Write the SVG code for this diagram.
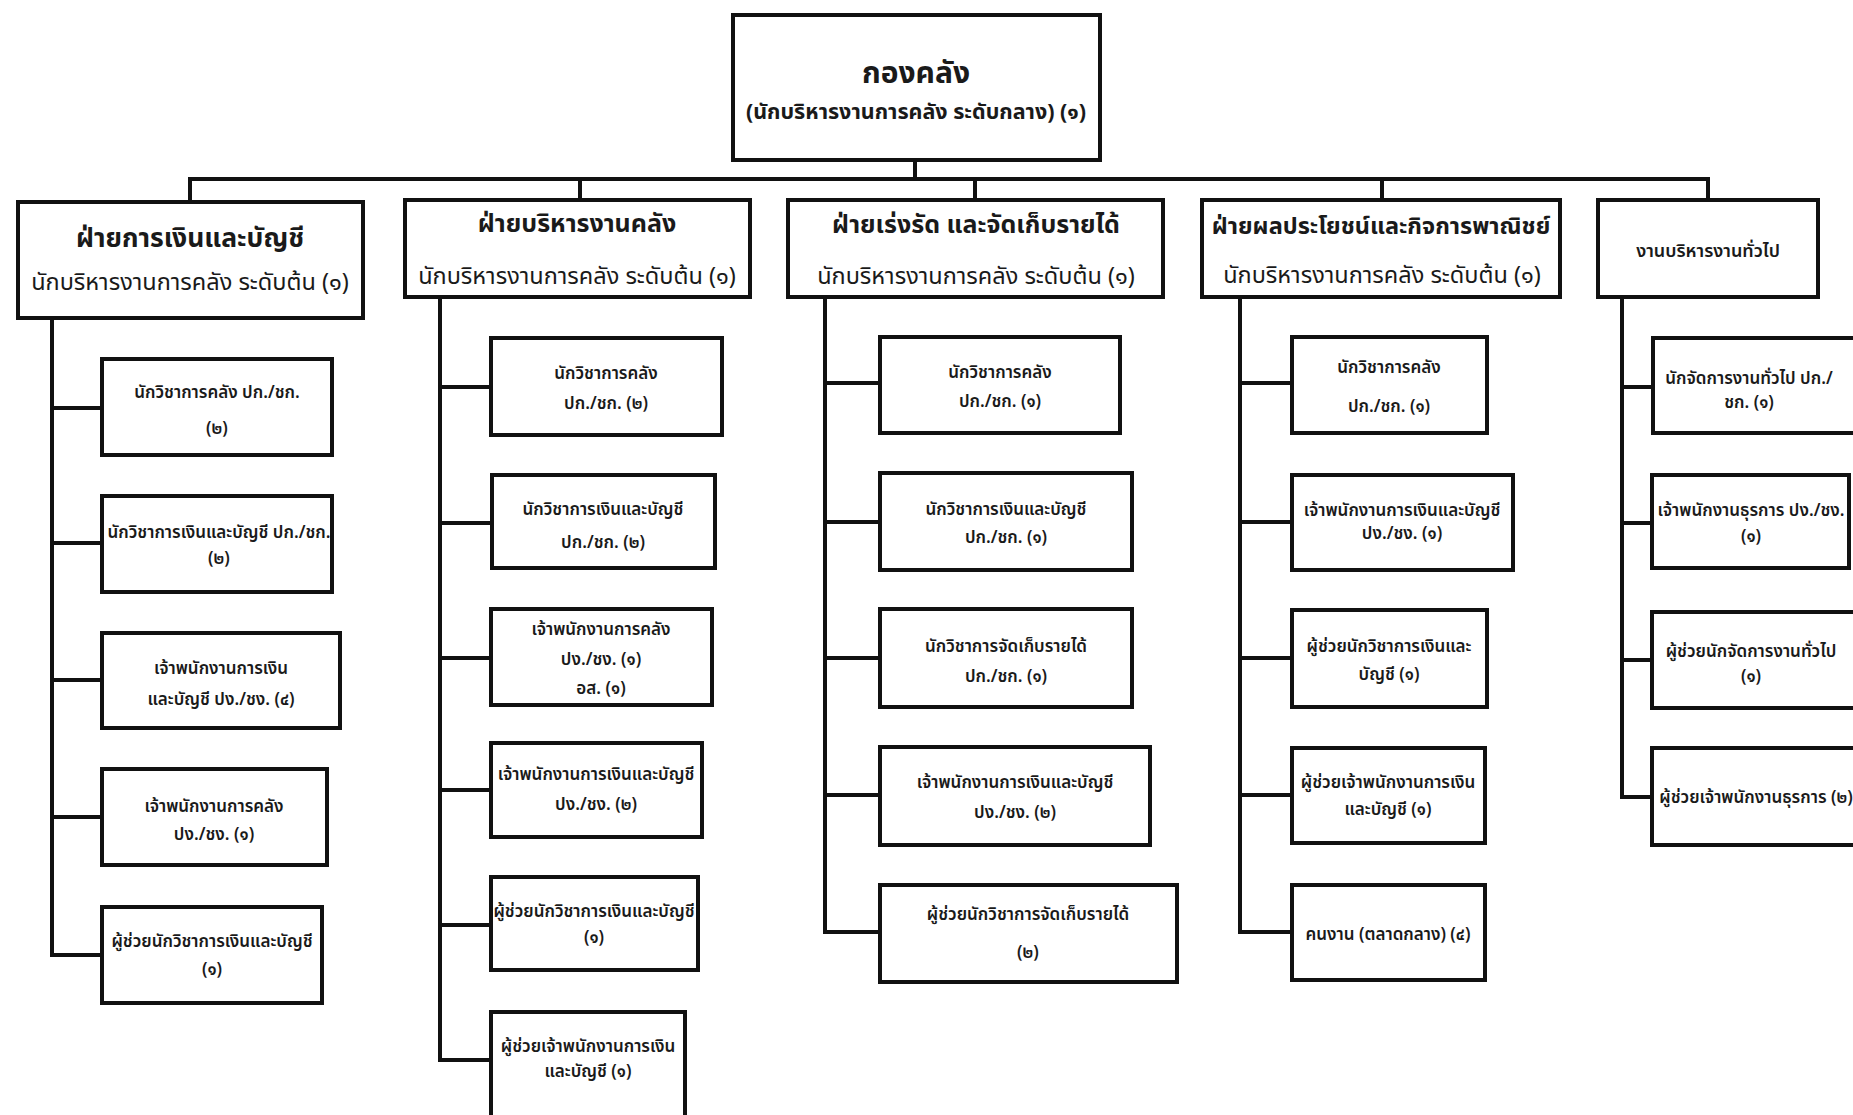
<svg xmlns="http://www.w3.org/2000/svg" width="1853" height="1115" viewBox="0 0 1853 1115">
  <style>
    .box { fill: #ffffff; stroke: #111111; stroke-width: 4; }
    .ln { stroke: #111111; stroke-width: 4; fill: none; stroke-linecap: square; }
    text { font-family: 'Noto Sans Thai', 'Noto Sans Thai UI', 'Noto Looped Thai', Loma, Garuda, Norasi, 'DejaVu Sans', sans-serif; fill: #1a1a1a; text-anchor: middle; }
    .h1 { font-size: 30px; font-weight: bold; }
    .h2 { font-size: 21.5px; font-weight: bold; }
    .dh { font-size: 25px; font-weight: bold; }
    .ds { font-size: 23.5px; }
    .c { font-size: 17px; font-weight: 600; }
    .g { font-size: 18px; font-weight: 600; }
  </style>
  <rect width="1853" height="1115" fill="#ffffff"/>

  <!-- connectors -->
  <g id="connectors">
    <path class="ln" d="M915 160 V179 M190 179 H1708 M190 179 V202 M580 179 V200 M975 179 V200 M1382 179 V200 M1708 179 V200"/>
    <path class="ln" d="M52 318 V955 M52 408 H102 M52 543 H102 M52 680 H102 M52 817 H102 M52 955 H102"/>
    <path class="ln" d="M440 297 V1060 M440 387 H491 M440 523 H491 M440 658 H491 M440 790 H491 M440 925 H491 M440 1060 H491"/>
    <path class="ln" d="M825 297 V932 M825 383 H880 M825 522 H880 M825 658 H880 M825 795 H880 M825 932 H880"/>
    <path class="ln" d="M1240 297 V932 M1240 383 H1292 M1240 522 H1292 M1240 658 H1292 M1240 795 H1292 M1240 932 H1292"/>
    <path class="ln" d="M1622 297 V797 M1622 387 H1652 M1622 523 H1652 M1622 660 H1652 M1622 797 H1652"/>
  </g>

  <!-- head office -->
  <g id="treasury">
    <rect class="box" x="733" y="15" width="367" height="145"/>
    <text class="h1" x="916" y="83">กองคลัง</text>
    <text class="h2" x="916" y="119">(นักบริหารงานการคลัง ระดับกลาง) (๑)</text>
  </g>

  <!-- division 1 -->
  <g id="div-finance">
    <rect class="box" x="18" y="202" width="345" height="116"/>
    <text class="dh" x="190" y="247" style="font-size:26.5px">ฝ่ายการเงินและบัญชี</text>
    <text class="ds" x="190" y="290">นักบริหารงานการคลัง ระดับต้น (๑)</text>
  </g>
  <g id="div-finance-1">
    <rect class="box" x="102" y="359" width="230" height="96"/>
    <text class="c" x="217" y="398">นักวิชาการคลัง ปก./ชก.</text>
    <text class="c" x="217" y="434">(๒)</text>
  </g>
  <g id="div-finance-2">
    <rect class="box" x="102" y="496" width="230" height="96"/>
    <text class="c" x="219" y="538">นักวิชาการเงินและบัญชี ปก./ชก.</text>
    <text class="c" x="219" y="564">(๒)</text>
  </g>
  <g id="div-finance-3">
    <rect class="box" x="102" y="633" width="238" height="95"/>
    <text class="c" x="221" y="674">เจ้าพนักงานการเงิน</text>
    <text class="c" x="221" y="705">และบัญชี ปง./ชง. (๔)</text>
  </g>
  <g id="div-finance-4">
    <rect class="box" x="102" y="769" width="225" height="96"/>
    <text class="c" x="214" y="812">เจ้าพนักงานการคลัง</text>
    <text class="c" x="214" y="840">ปง./ชง. (๑)</text>
  </g>
  <g id="div-finance-5">
    <rect class="box" x="102" y="907" width="220" height="96"/>
    <text class="c" x="212" y="947">ผู้ช่วยนักวิชาการเงินและบัญชี</text>
    <text class="c" x="212" y="975">(๑)</text>
  </g>

  <!-- division 2 -->
  <g id="div-admin">
    <rect class="box" x="405" y="200" width="345" height="97"/>
    <text class="dh" x="577" y="232">ฝ่ายบริหารงานคลัง</text>
    <text class="ds" x="577" y="284">นักบริหารงานการคลัง ระดับต้น (๑)</text>
  </g>
  <g id="div-admin-1">
    <rect class="box" x="491" y="338" width="231" height="97"/>
    <text class="c" x="606" y="379">นักวิชาการคลัง</text>
    <text class="c" x="606" y="409">ปก./ชก. (๒)</text>
  </g>
  <g id="div-admin-2">
    <rect class="box" x="492" y="475" width="223" height="93"/>
    <text class="c" x="603" y="515">นักวิชาการเงินและบัญชี</text>
    <text class="c" x="603" y="548">ปก./ชก. (๒)</text>
  </g>
  <g id="div-admin-3">
    <rect class="box" x="491" y="609" width="221" height="96"/>
    <text class="c" x="601" y="635">เจ้าพนักงานการคลัง</text>
    <text class="c" x="601" y="665">ปง./ชง. (๑)</text>
    <text class="c" x="601" y="694">อส. (๑)</text>
  </g>
  <g id="div-admin-4">
    <rect class="box" x="491" y="743" width="211" height="94"/>
    <text class="c" x="596" y="780">เจ้าพนักงานการเงินและบัญชี</text>
    <text class="c" x="596" y="810">ปง./ชง. (๒)</text>
  </g>
  <g id="div-admin-5">
    <rect class="box" x="491" y="877" width="207" height="93"/>
    <text class="c" x="594" y="917">ผู้ช่วยนักวิชาการเงินและบัญชี</text>
    <text class="c" x="594" y="943">(๑)</text>
  </g>
  <g id="div-admin-6">
    <rect class="box" x="491" y="1012" width="194" height="113"/>
    <text class="c" x="588" y="1052">ผู้ช่วยเจ้าพนักงานการเงิน</text>
    <text class="c" x="588" y="1077">และบัญชี (๑)</text>
  </g>

  <!-- division 3 -->
  <g id="div-revenue">
    <rect class="box" x="788" y="200" width="375" height="97"/>
    <text class="dh" x="976" y="233">ฝ่ายเร่งรัด และจัดเก็บรายได้</text>
    <text class="ds" x="976" y="284">นักบริหารงานการคลัง ระดับต้น (๑)</text>
  </g>
  <g id="div-revenue-1">
    <rect class="box" x="880" y="337" width="240" height="96"/>
    <text class="c" x="1000" y="378">นักวิชาการคลัง</text>
    <text class="c" x="1000" y="407">ปก./ชก. (๑)</text>
  </g>
  <g id="div-revenue-2">
    <rect class="box" x="880" y="473" width="252" height="97"/>
    <text class="c" x="1006" y="515">นักวิชาการเงินและบัญชี</text>
    <text class="c" x="1006" y="543">ปก./ชก. (๑)</text>
  </g>
  <g id="div-revenue-3">
    <rect class="box" x="880" y="609" width="252" height="98"/>
    <text class="c" x="1006" y="652">นักวิชาการจัดเก็บรายได้</text>
    <text class="c" x="1006" y="682">ปก./ชก. (๑)</text>
  </g>
  <g id="div-revenue-4">
    <rect class="box" x="880" y="747" width="270" height="98"/>
    <text class="c" x="1015" y="788">เจ้าพนักงานการเงินและบัญชี</text>
    <text class="c" x="1015" y="818">ปง./ชง. (๒)</text>
  </g>
  <g id="div-revenue-5">
    <rect class="box" x="880" y="885" width="297" height="97"/>
    <text class="c" x="1028" y="920">ผู้ช่วยนักวิชาการจัดเก็บรายได้</text>
    <text class="c" x="1028" y="958">(๒)</text>
  </g>

  <!-- division 4 -->
  <g id="div-commerce">
    <rect class="box" x="1202" y="200" width="358" height="97"/>
    <text class="dh" x="1381" y="234" style="font-size:23.5px">ฝ่ายผลประโยชน์และกิจการพาณิชย์</text>
    <text class="ds" x="1382" y="283">นักบริหารงานการคลัง ระดับต้น (๑)</text>
  </g>
  <g id="div-commerce-1">
    <rect class="box" x="1292" y="337" width="195" height="96"/>
    <text class="c" x="1389" y="373">นักวิชาการคลัง</text>
    <text class="c" x="1389" y="412">ปก./ชก. (๑)</text>
  </g>
  <g id="div-commerce-2">
    <rect class="box" x="1292" y="475" width="221" height="95"/>
    <text class="c" x="1402" y="516">เจ้าพนักงานการเงินและบัญชี</text>
    <text class="c" x="1402" y="539">ปง./ชง. (๑)</text>
  </g>
  <g id="div-commerce-3">
    <rect class="box" x="1292" y="610" width="195" height="97"/>
    <text class="c" x="1389" y="652">ผู้ช่วยนักวิชาการเงินและ</text>
    <text class="c" x="1389" y="680">บัญชี (๑)</text>
  </g>
  <g id="div-commerce-4">
    <rect class="box" x="1292" y="748" width="193" height="95"/>
    <text class="c" x="1388" y="788">ผู้ช่วยเจ้าพนักงานการเงิน</text>
    <text class="c" x="1388" y="815">และบัญชี (๑)</text>
  </g>
  <g id="div-commerce-5">
    <rect class="box" x="1292" y="885" width="193" height="95"/>
    <text class="c" x="1388" y="940">คนงาน (ตลาดกลาง) (๔)</text>
  </g>

  <!-- general affairs -->
  <g id="general">
    <rect class="box" x="1598" y="200" width="220" height="97"/>
    <text class="g" x="1708" y="257">งานบริหารงานทั่วไป</text>
  </g>
  <g id="general-1">
    <rect class="box" x="1653" y="338" width="210" height="95"/>
    <text class="c" x="1749" y="384">นักจัดการงานทั่วไป ปก./</text>
    <text class="c" x="1749" y="408">ชก. (๑)</text>
  </g>
  <g id="general-2">
    <rect class="box" x="1652" y="475" width="197" height="93"/>
    <text class="c" x="1751" y="516">เจ้าพนักงานธุรการ ปง./ชง.</text>
    <text class="c" x="1751" y="542">(๑)</text>
  </g>
  <g id="general-3">
    <rect class="box" x="1652" y="612" width="210" height="96"/>
    <text class="c" x="1751" y="657">ผู้ช่วยนักจัดการงานทั่วไป</text>
    <text class="c" x="1751" y="682">(๑)</text>
  </g>
  <g id="general-4">
    <rect class="box" x="1652" y="748" width="210" height="97"/>
    <text class="c" x="1756" y="803">ผู้ช่วยเจ้าพนักงานธุรการ (๒)</text>
  </g>
</svg>
